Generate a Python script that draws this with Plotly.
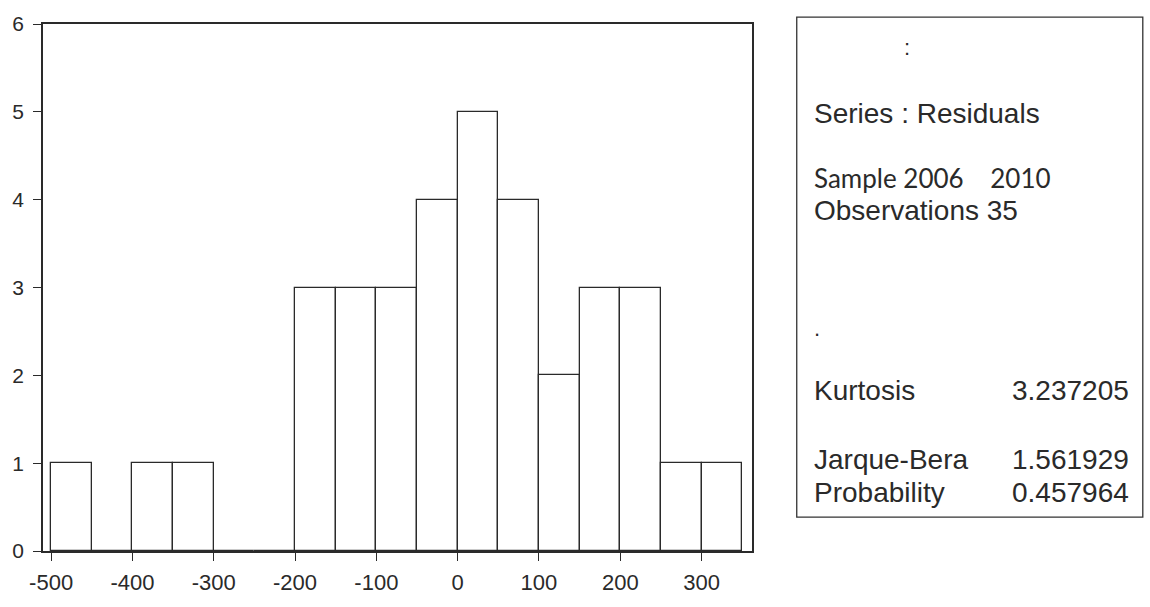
import plotly.graph_objects as go

# ---- data ----
bin_left = [-500, -450, -400, -350, -300, -250, -200, -150, -100, -50, 0, 50, 100, 150, 200, 250, 300]
counts = [1, 0, 1, 1, 0, 0, 3, 3, 3, 4, 5, 4, 2, 3, 3, 1, 1]
bin_width = 50
x_ticks = [-500, -400, -300, -200, -100, 0, 100, 200, 300]
y_ticks = [0, 1, 2, 3, 4, 5, 6]

stats_labels = ["Kurtosis", "Jarque-Bera", "Probability"]
stats_values = ["3.237205", "1.561929", "0.457964"]

W, H = 1150, 607
L, R, T, B = 39, 398, 19, 44
PW, PH = W - L - R, H - T - B

def px(x):
    return (x - L) / PW

def py(y):
    return 1 - (y - T) / PH

centers = [b + bin_width / 2 for b in bin_left]

fig = go.Figure()
fig.add_trace(go.Bar(
    x=centers, y=counts, width=[bin_width] * len(counts),
    marker=dict(color="white", line=dict(color="#2a2a2a", width=1.3)),
    showlegend=False, hoverinfo="x+y",
))

FONT = "Liberation Sans, Arial, sans-serif"
fig.update_layout(
    width=W, height=H,
    margin=dict(l=L, r=R, t=T, b=B),
    paper_bgcolor="white", plot_bgcolor="white",
    font=dict(family=FONT, color="#2a2a2a"),
    bargap=0,
    xaxis=dict(range=[-510, 362], tickvals=x_ticks, ticktext=[str(v) for v in x_ticks],
               showgrid=False, zeroline=False, showline=True, linecolor="#2a2a2a", linewidth=1.5,
               mirror=True, ticks="outside", ticklen=8, tickcolor="#2a2a2a",
               ticklabelstandoff=3,
               tickfont=dict(size=22, family=FONT, color="#2a2a2a")),
    yaxis=dict(range=[0, 6], tickvals=y_ticks, showgrid=False, zeroline=False, showline=True,
               linecolor="#2a2a2a", linewidth=1.5, mirror=True, ticks="outside", ticklen=8,
               tickcolor="#2a2a2a", ticklabelstandoff=5,
               tickfont=dict(size=21, family=FONT, color="#2a2a2a")),
)

# stats box
fig.add_shape(type="rect", xref="paper", yref="paper",
              x0=px(797), x1=px(1145), y0=py(528), y1=py(12),
              line=dict(color="#333", width=1.3), fillcolor="white")

def txt(x, y, s, size=28, anchor="left", family=FONT):
    fig.add_annotation(xref="paper", yref="paper", x=px(x), y=py(y), text=s,
                       showarrow=False, xanchor=anchor, yanchor="middle",
                       font=dict(size=size, family=family, color="#2a2a2a"))

txt(903, 43, ":", size=22)
txt(812, 111, "Series : Residuals")
txt(812, 178, "Sample 2006&nbsp;&nbsp;&nbsp;&nbsp;2010", size=26, family="Lato, Open Sans, sans-serif")
txt(812, 211, "Observations 35")
txt(812, 333, ".", size=22)
ys = [397, 469, 503]
for lab, val, yy in zip(stats_labels, stats_values, ys):
    txt(812, yy, lab)
    txt(1133, yy, val, anchor="right")

fig.write_html("out.html", config={"displayModeBar": False},
               post_script="document.body.style.margin='0';")
